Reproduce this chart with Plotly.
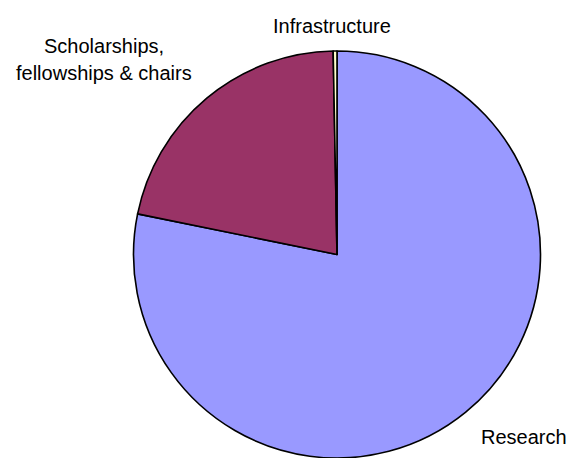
import plotly.graph_objects as go

# Share of funding by category (percent)
categories = ["Research", "Scholarships, fellowships & chairs", "Infrastructure"]
shares = [78.2, 21.5, 0.3]
colors = ["#9999FF", "#993366", "#FFFFCC"]

W, H = 569, 458

# Pie placement on the page, in pixels
cx, cy, radius = 337, 257, 206

fig = go.Figure(
    go.Pie(
        labels=categories,
        values=shares,
        sort=False,
        direction="clockwise",
        rotation=0,
        textinfo="none",
        hoverinfo="label+percent",
        marker=dict(colors=colors, line=dict(color="#000000", width=1.6)),
        domain=dict(
            x=[(cx - radius) / W, (cx + radius) / W],
            y=[max(0.0, 1 - (cy + radius) / H), 1 - (cy - radius) / H],
        ),
        showlegend=False,
    )
)

font = dict(family="Liberation Sans, Arial, sans-serif", size=20, color="#000000")
labels = [
    ("Infrastructure", 332, 26),
    ("Scholarships,", 104, 46),
    ("fellowships & chairs", 104, 73),
    ("Research", 524, 437),
]
for text, x, y in labels:
    fig.add_annotation(
        text=text, x=x / W, y=1 - y / H, xref="paper", yref="paper",
        xanchor="center", yanchor="middle", showarrow=False, font=font,
    )

fig.update_layout(
    width=W,
    height=H,
    margin=dict(l=0, r=0, t=0, b=0),
    paper_bgcolor="white",
    plot_bgcolor="white",
)

fig.write_html("out.html")
